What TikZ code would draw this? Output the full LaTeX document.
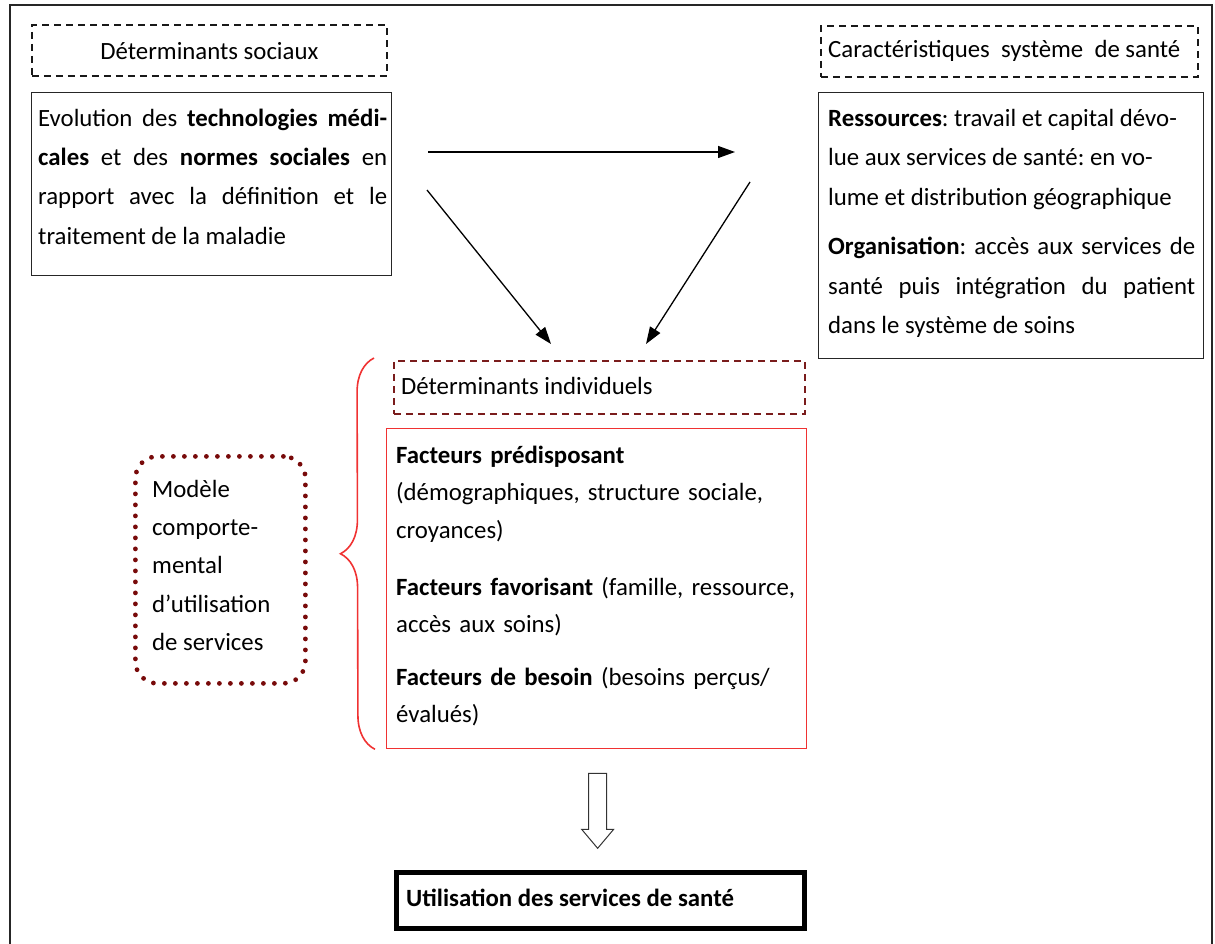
\documentclass[tikz,border=0pt]{standalone}
\usepackage{fontspec}
\setmainfont{Carlito}
\usepackage{tikz}
\usetikzlibrary{arrows.meta}
\usetikzlibrary{decorations,decorations.pathreplacing}
\usetikzlibrary{calc}
\definecolor{bordeaux}{RGB}{122,28,28}
\definecolor{marron}{RGB}{120,10,10}
\definecolor{rouge}{RGB}{240,50,50}
\newcommand{\corps}[1]{\fontsize{24.8}{#1}\selectfont\frenchspacing}
\tikzstyle{cadre}=[draw=black!85, line width=1.2pt, inner sep=0pt]
\tikzstyle{titre}=[draw=black!90, line width=1.8pt, dash pattern=on 7pt off 5pt, inner sep=0pt]
\tikzstyle{texte}=[anchor=north west, inner sep=0pt, align=left]
\tikzstyle{fleche}=[line width=1.3pt, -{Triangle[length=17pt,width=12pt]}]

\begin{document}
\begin{tikzpicture}[x=1pt, y=-1pt, font=\corps{39}]
\useasboundingbox (0,0) rectangle (1215,944);
\draw[line width=2pt, black!85] (10,944) -- (10,5) -- (1212,5) -- (1212,944);
\node[titre, anchor=north west, minimum width=355, minimum height=51] (socT) at (31,24) {};
\node[anchor=base, inner sep=0pt] (socTx) at ($(socT.south)+(0,-17)$) {Déterminants sociaux};
\node[cadre, anchor=north west, minimum width=360, minimum height=183] (evo) at (31,92) {};
\node[texte, text width=349, align=justify, font=\corps{39.3}] (evoTx) at (38,98.5)
 {\noindent\strut Evolution des \textbf{technologies médi-}\linebreak
 \textbf{cales} et des \textbf{normes sociales} en\linebreak
 rapport avec la définition et le\linebreak
 traitement de la maladie};
\node[titre, anchor=north west, minimum width=377, minimum height=51] (sysT) at (820,25) {};
\node[anchor=base west, inner sep=0pt] (sysTx) at (828,58) {Caractéristiques\ \ système\ \ de santé};
\node[cadre, anchor=north west, minimum width=385, minimum height=266] (res) at (818,92) {};
\node[texte, text width=367, align=justify, font=\corps{39.5}] (resTx) at (828,98.35)
 {\noindent\strut\textbf{Ressources}: travail et capital dévo-\\
 lue aux services de santé: en vo-\\
 lume et distribution géographique\\[10pt]
 \textbf{Organisation}: accès aux services de\linebreak
 santé puis intégration du patient\linebreak
 dans le système de soins};
\node[titre, draw=bordeaux, anchor=north west, minimum width=411, minimum height=53] (indT) at (393,360) {};
\node[anchor=base west, inner sep=0pt] (indTx) at (401,394) {Déterminants individuels};
\node[draw=rouge, line width=1.3pt, anchor=north west, minimum width=420, minimum height=320, inner sep=0pt] (fac) at (386,428) {};
\node[texte, text width=408, font=\corps{37.5}] (facTx) at (396,436.75)
 {\strut\textbf{Facteurs prédisposant}\\
 (démographiques, structure sociale,\\
 croyances)\\[19.5pt]
 \textbf{Facteurs favorisant} (famille, ressource,\\
 accès aux soins)\\[15pt]
 \textbf{Facteurs de besoin} (besoins perçus/\\
 évalués)};
\node[draw=marron, line width=4.8pt, dash pattern=on 0pt off 11pt, line cap=round, rounded corners=22pt,
 anchor=north west, minimum width=170, minimum height=227, inner sep=0pt] (mod) at (133,454) {};
\node[texte, font=\corps{38.3}] (modTx) at (152,470.2)
 {\strut Modèle\\ comporte-\\ mental\\ d’utilisation\\ de services};
\coordinate (acB) at ($(fac.south west)+(-11,0)$);
\coordinate (acH) at ($(indT.north west)+(-19,-2)$);
\draw[rouge, line width=1.6pt, decorate, decoration={brace, amplitude=34pt, aspect=0.5}] (acB) -- (acH);
\node[draw=black, line width=4.5pt, anchor=north west, minimum width=408, minimum height=56, inner sep=0pt] (util) at (394,870) {};
\node[anchor=base west, inner sep=0pt] (utilTx) at (406,906) {\textbf{Utilisation des services de santé}};
\coordinate (h1) at (428,152);
\coordinate (h2) at (735,152);
\coordinate (g1) at (427,190);
\coordinate (g2) at (551,344);
\coordinate (d1) at (750,182);
\coordinate (d2) at (646,344);
\draw[fleche] (h1) -- (h2);
\draw[fleche] (g1) -- (g2);
\draw[fleche] (d1) -- (d2);
\coordinate (bf) at ($(fac.south)+(1,24)$);
\draw[line width=1pt, black!80, fill=white] (bf) ++(-9,0) -- ++(18,0) -- ++(0,56) -- ++(7,0) -- ++(-16,19) -- ++(-16,-19) -- ++(7,0) -- cycle;
\end{tikzpicture}
\end{document}
